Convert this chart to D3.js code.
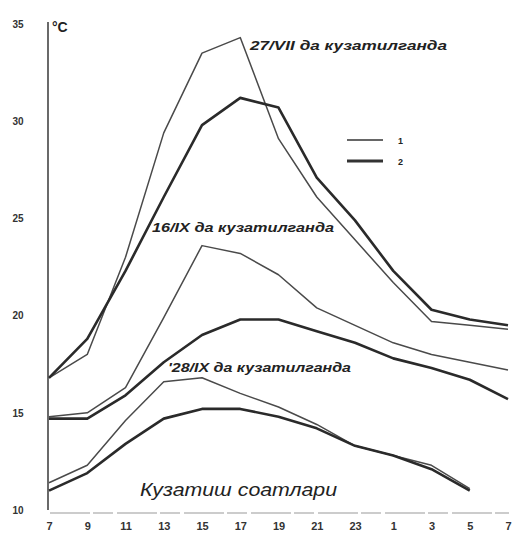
<!DOCTYPE html>
<html><head><meta charset="utf-8">
<script src="https://cdn.jsdelivr.net/npm/d3@7"></script>
<style>
html,body{margin:0;padding:0;background:#fff;}
svg{display:block;}
text{font-family:"Liberation Sans","DejaVu Sans",sans-serif;fill:#222;}
</style></head>
<body>
<script>
// ---- data ----
const hours = ["7","9","11","13","15","17","19","21","23","1","3","5","7"];
const yTicks = [10,15,20,25,30,35];
const jul27_1 = [16.8,18.0,23.0,29.4,33.5,34.3,29.1,26.1,23.9,21.7,19.7,19.5,19.3];
const jul27_2 = [16.8,18.8,22.3,26.1,29.8,31.2,30.7,27.1,24.9,22.3,20.3,19.8,19.5];
const sep16_1 = [14.8,15.0,16.3,19.9,23.6,23.2,22.1,20.4,19.5,18.6,18.0,17.6,17.2];
const sep16_2 = [14.7,14.7,15.9,17.6,19.0,19.8,19.8,19.2,18.6,17.8,17.3,16.7,15.7];
const sep28_1 = [11.4,12.3,14.6,16.6,16.8,16.0,15.3,14.4,13.3,12.8,12.3,11.1];
const sep28_2 = [11.0,11.9,13.4,14.7,15.2,15.2,14.8,14.2,13.3,12.8,12.1,11.0];
const seriesLabels = ["27/VII да кузатилганда","16/IX да кузатилганда","'28/IX да кузатилганда"];
const legendLabels = ["1","2"];

const W=513,H=533;
const svg=d3.select("body").append("svg").attr("width",W).attr("height",H);
const x=d3.scaleLinear().domain([0,hours.length-1]).range([49,508]);
const y=d3.scaleLinear().domain([10,35]).range([510,24]);

// axes
svg.append("line").attr("x1",48).attr("x2",48).attr("y1",22).attr("y2",510)
  .attr("stroke","#444").attr("stroke-width",1.6);
svg.append("line").attr("x1",50).attr("x2",509).attr("y1",513).attr("y2",513)
  .attr("stroke","#999").attr("stroke-width",1.2).attr("stroke-dasharray","40,3,20,4");

const yAxis=d3.axisLeft(y).tickValues(yTicks).tickSize(0).tickPadding(0).tickFormat(d=>d);
const gy=svg.append("g").attr("transform","translate(24,0)").call(yAxis);
gy.select(".domain").remove();
gy.selectAll("text").attr("font-size",10).attr("font-weight","bold").attr("text-anchor","middle")
  .attr("x",-6).style("fill","#333");

const xAxis=d3.axisBottom(x).tickValues(d3.range(hours.length)).tickSize(0).tickPadding(0)
  .tickFormat(i=>hours[i]);
const gx=svg.append("g").attr("transform","translate(0,522)").call(xAxis);
gx.select(".domain").remove();
gx.selectAll("text").attr("font-size",11).attr("font-weight","bold").style("fill","#333");

// lines
const line=d3.line().x((d,i)=>x(i)).y(d=>y(d)).curve(d3.curveLinear);
const thin=[jul27_1,sep16_1,sep28_1], thick=[jul27_2,sep16_2,sep28_2];
thin.forEach(s=>svg.append("path").datum(s).attr("d",line).attr("fill","none")
  .attr("stroke","#4a4a4a").attr("stroke-width",1.5).attr("stroke-linejoin","round"));
thick.forEach(s=>svg.append("path").datum(s).attr("d",line).attr("fill","none")
  .attr("stroke","#2a2a2a").attr("stroke-width",2.6).attr("stroke-linejoin","round"));

// °C
svg.append("text").attr("x",52).attr("y",32).attr("font-size",14).attr("font-weight","bold").text("°C");

// series labels
const lab=[[250,50,197],[152,232,182],[168,372,183]];
seriesLabels.forEach((t,i)=>{
  svg.append("text").attr("x",lab[i][0]).attr("y",lab[i][1]).attr("font-size",12.5)
   .attr("font-style","italic").attr("font-weight","bold")
   .attr("textLength",lab[i][2]).attr("lengthAdjust","spacingAndGlyphs").text(t);
});

// axis title
svg.append("text").attr("x",140).attr("y",496).attr("font-size",18).attr("font-style","italic")
  .attr("textLength",197).attr("lengthAdjust","spacingAndGlyphs").text("Кузатиш соатлари");

// legend
const leg=[[140,1.4],[161,2.8]];
legendLabels.forEach((t,i)=>{
  svg.append("line").attr("x1",347).attr("x2",383).attr("y1",leg[i][0]).attr("y2",leg[i][0])
   .attr("stroke","#333").attr("stroke-width",leg[i][1]);
  svg.append("text").attr("x",398).attr("y",leg[i][0]+4).attr("font-size",9).attr("font-weight","bold").text(t);
});
</script>
</body></html>
